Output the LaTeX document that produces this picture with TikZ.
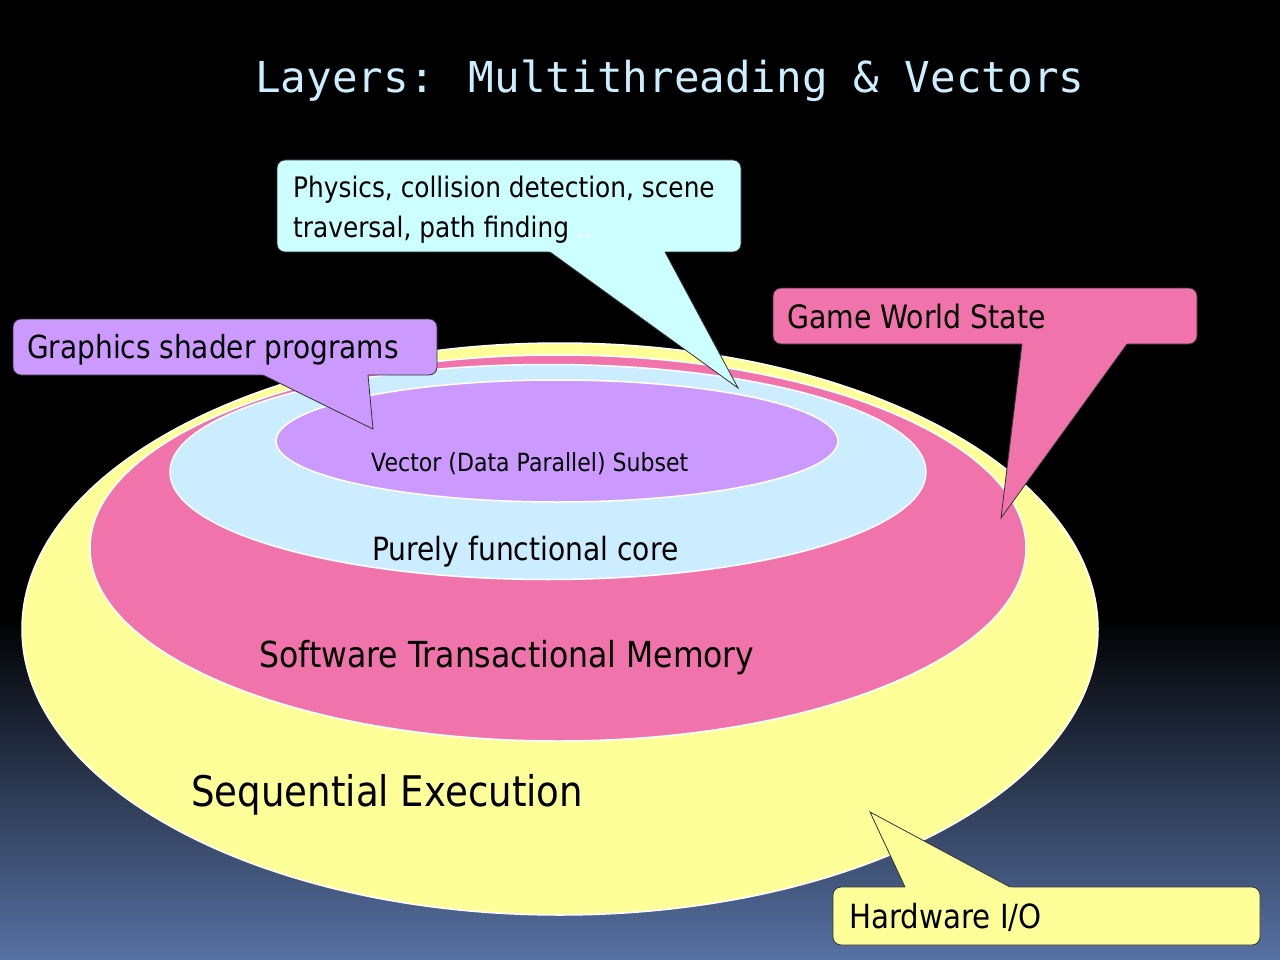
\documentclass[tikz,border=0pt]{standalone}
\usepackage{fontspec}
\usetikzlibrary{shapes.geometric,calc}
\newfontfamily\tah{DejaVu Sans}[FakeStretch=0.88]
\newfontfamily\monofam{DejaVu Sans Mono}
\definecolor{yel}{HTML}{FFFF99}
\definecolor{pnk}{HTML}{F173AC}
\definecolor{lblue}{HTML}{CCECFF}
\definecolor{purp}{HTML}{CC99FF}
\definecolor{cyn}{HTML}{CCFFFF}
\definecolor{titlec}{HTML}{CCEEFF}
\definecolor{bgblue}{RGB}{87,113,163}
\tikzset{
  layer/.style={ellipse, draw=white, line width=1.5pt, inner sep=0pt},
  cbox/.style={rectangle, rounded corners=8pt, draw=black!80, line width=0.8pt, inner sep=0pt},
  lbl/.style={inner sep=0pt, anchor=base west, text=black},
  ptrline/.style={draw=black!80, line width=0.8pt}
}
\newcommand{\pointer}[4]{% colour, tip, base1, base2
  \fill[#1] (#2) -- ($(#2)!1.04!(#3)$) -- ($(#2)!1.04!(#4)$) -- cycle;
  \draw[ptrline] (#3) -- (#2) -- (#4);
}
\begin{document}
\begin{tikzpicture}[x=1pt,y=-1pt]
\useasboundingbox (0,0) rectangle (1280,960);
% background
\fill[black] (0,0) rectangle (1280,960);
\fill[top color=black, bottom color=bgblue] (0,615) rectangle (1280,960);

% title
\node[inner sep=0pt, anchor=base west, text=titlec, font=\monofam\fontsize{42.6}{50}\selectfont] (title) at (255,93) {Layers: Multithreading \& Vectors};

% layers
\node[layer, fill=yel, minimum width=1076pt, minimum height=572pt] (seq) at (560,629) {};
\node[layer, fill=pnk, minimum width=936pt, minimum height=386pt] (stm) at (558,548) {};
\node[layer, fill=lblue, minimum width=756pt, minimum height=215pt] (pure) at (548,472) {};
\node[layer, fill=purp, minimum width=562pt, minimum height=122pt] (vec) at (557,441) {};

\node[lbl, font=\tah\fontsize{25.05}{30}\selectfont] (vecl) at (371,471) {Vector (Data Parallel) Subset};
\node[lbl, font=\tah\fontsize{32}{38}\selectfont] (purel) at (372,560) {Purely functional core};
\node[lbl, font=\tah\fontsize{35.8}{42}\selectfont] (stml) at (259,667) {Software Transactional Memory};
\node[lbl, font=\tah\fontsize{42.2}{50}\selectfont] (seql) at (191,806) {Sequential Execution};

% callout: physics
\node[cbox, fill=cyn, minimum width=464pt, minimum height=92pt] (physbox) at (509,206) {};
\coordinate (physTip) at (738,388);
\coordinate (physA) at (550,252);
\coordinate (physB) at (665,252);
\pointer{cyn}{physTip}{physA}{physB}
\node[lbl, font=\tah\fontsize{28.2}{39}\selectfont] (phys1) at (293,198) {Physics, collision detection, scene};
\node[lbl, font=\tah\fontsize{28.2}{39}\selectfont] (phys2) at (293,237) {traversal, path finding {\color{white}..}};

% callout: graphics
\node[cbox, fill=purp, minimum width=424pt, minimum height=56pt] (gfxbox) at (225,347) {};
\coordinate (gfxTip) at (373,429);
\coordinate (gfxA) at (263,375);
\coordinate (gfxB) at (368,375);
\pointer{purp}{gfxTip}{gfxA}{gfxB}
\node[lbl, font=\tah\fontsize{31.8}{38}\selectfont] (gfx) at (27,358) {Graphics shader programs};

% callout: game world state
\node[cbox, fill=pnk, minimum width=424pt, minimum height=56pt] (gamebox) at (985,316) {};
\coordinate (gameTip) at (1001,518);
\coordinate (gameA) at (1022,344);
\coordinate (gameB) at (1127,344);
\pointer{pnk}{gameTip}{gameA}{gameB}
\node[lbl, font=\tah\fontsize{32.2}{38}\selectfont] (game) at (787,328) {Game World State};

% callout: hardware
\node[cbox, fill=yel, minimum width=427pt, minimum height=58pt] (hwbox) at (1046.5,916) {};
\coordinate (hwTip) at (870,812);
\coordinate (hwA) at (905,887);
\coordinate (hwB) at (1010,887);
\pointer{yel}{hwTip}{hwA}{hwB}
\node[lbl, font=\tah\fontsize{33.3}{40}\selectfont] (hw) at (849,928) {Hardware I/O};
\end{tikzpicture}
\end{document}
